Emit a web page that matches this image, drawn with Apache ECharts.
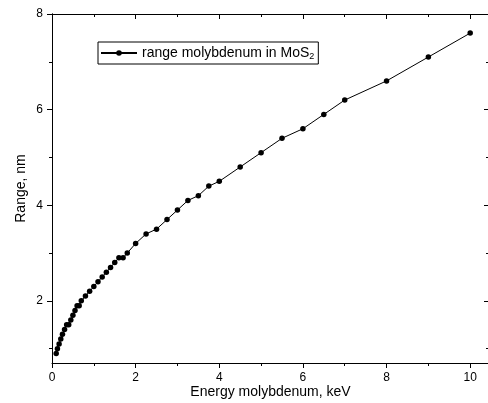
<!DOCTYPE html>
<html>
<head>
<meta charset="utf-8">
<title>range molybdenum in MoS2</title>
<script src="https://cdn.jsdelivr.net/npm/echarts@6/dist/echarts.min.js"></script>
<style>
  html, body { margin: 0; padding: 0; background: #fff; }
  #chart { width: 488px; height: 403px; }
</style>
</head>
<body>
<div id="chart"></div>
<script>
// data
const energy = [0.1, 0.13, 0.17, 0.21, 0.25, 0.3, 0.35, 0.4, 0.45, 0.5, 0.55, 0.6, 0.65, 0.7, 0.8, 0.9,
  1.0, 1.1, 1.2, 1.3, 1.4, 1.5, 1.6, 1.7, 1.8, 2.0, 2.25, 2.5, 2.75, 3.0, 3.25, 3.5, 3.75, 4.0,
  4.5, 5.0, 5.5, 6.0, 6.5, 7.0, 8.0, 9.0, 10.0];
const range = [0.9, 1.0, 1.1, 1.2, 1.3, 1.4, 1.5, 1.5, 1.6, 1.7, 1.8, 1.9, 1.9, 2.0, 2.1, 2.2,
  2.3, 2.4, 2.5, 2.6, 2.7, 2.8, 2.9, 2.9, 3.0, 3.2, 3.4, 3.5, 3.7, 3.9, 4.1, 4.2, 4.4, 4.5,
  4.8, 5.1, 5.4, 5.6, 5.9, 6.2, 6.6, 7.1, 7.6];
const yMajorTicks = [2, 4, 6, 8];
const yMinorTicks = [1, 3, 5, 7];

const FONT = "'Liberation Sans', Arial, sans-serif";
const SERIES_NAME = "range molybdenum in MoS2";
const points = energy.map((e, i) => [e, range[i]]);
const black = { color: "#000", width: 1 };

// x axes: major every 2, minor ticks in between
function xAx(pos) {
  return {
    type: "value", position: pos, min: 0, max: 10.45, interval: 2,
    splitLine: { show: false },
    axisLine: { onZero: false, lineStyle: black },
    axisTick: { show: true, inside: pos === "top", length: 5, lineStyle: black },
    minorTick: { show: true, splitNumber: 2, length: 3, lineStyle: black },
    axisLabel: { show: pos === "bottom", margin: 9, color: "#000", fontSize: 12, fontFamily: FONT,
      formatter: (v) => (v % 2 === 0 ? String(v) : "") },
  };
}
// y axes: one for major ticks (with labels), one for the short minor ticks
function yAx(pos, ticks, len, showLabel) {
  return {
    type: "value", position: pos, min: 0.7, max: 8,
    splitLine: { show: false },
    axisLine: { onZero: false, lineStyle: black },
    axisTick: { show: true, inside: pos === "right", length: len, customValues: ticks, lineStyle: black },
    axisLabel: { show: showLabel, margin: 9, color: "#000", fontSize: 12, fontFamily: FONT, customValues: ticks },
  };
}

const xBottom = xAx("bottom");
xBottom.name = "Energy molybdenum, keV";
xBottom.nameLocation = "middle";
xBottom.nameGap = 22;
xBottom.nameMoveOverlap = false;
xBottom.nameTextStyle = { color: "#000", fontSize: 14, fontFamily: FONT };

const yLeft = yAx("left", yMajorTicks, 5, true);
yLeft.name = "Range, nm";
yLeft.nameLocation = "middle";
yLeft.nameGap = 24;
yLeft.nameMoveOverlap = false;
yLeft.nameTextStyle = { color: "#000", fontSize: 14, fontFamily: FONT };

let myChart = echarts.init(document.getElementById("chart"));
let option = {
  animation: false,
  backgroundColor: "#fff",
  grid: { left: 52, top: 14, width: 437, bottom: 40, outerBoundsMode: "none" },
  legend: {
    left: 98,
    top: 42,
    padding: [3, 4, 3, 2],
    borderColor: "#000",
    borderWidth: 1,
    itemWidth: 36,
    itemHeight: 7,
    itemGap: 5,
    selectedMode: false,
    formatter: () => "range molybdenum in MoS{sub|2}",
    textStyle: {
      color: "#000", fontSize: 14, fontFamily: FONT, lineHeight: 16,
      rich: { sub: { fontSize: 9, fontFamily: FONT, color: "#000", lineHeight: 5, verticalAlign: "bottom" } },
    },
    data: [SERIES_NAME],
  },
  xAxis: [xBottom, xAx("top")],
  yAxis: [
    yLeft,
    yAx("left", yMinorTicks, 3, false),
    yAx("right", yMajorTicks, 5, false),
    yAx("right", yMinorTicks, 3, false),
  ],
  series: [
    {
      name: SERIES_NAME,
      type: "line",
      data: points,
      xAxisIndex: 0,
      yAxisIndex: 0,
      symbol: "circle",
      symbolSize: 5.5,
      showAllSymbol: true,
      itemStyle: { color: "#000" },
      lineStyle: { color: "#000", width: 1 },
    },
  ],
};
myChart.setOption(option);
</script>
</body>
</html>
